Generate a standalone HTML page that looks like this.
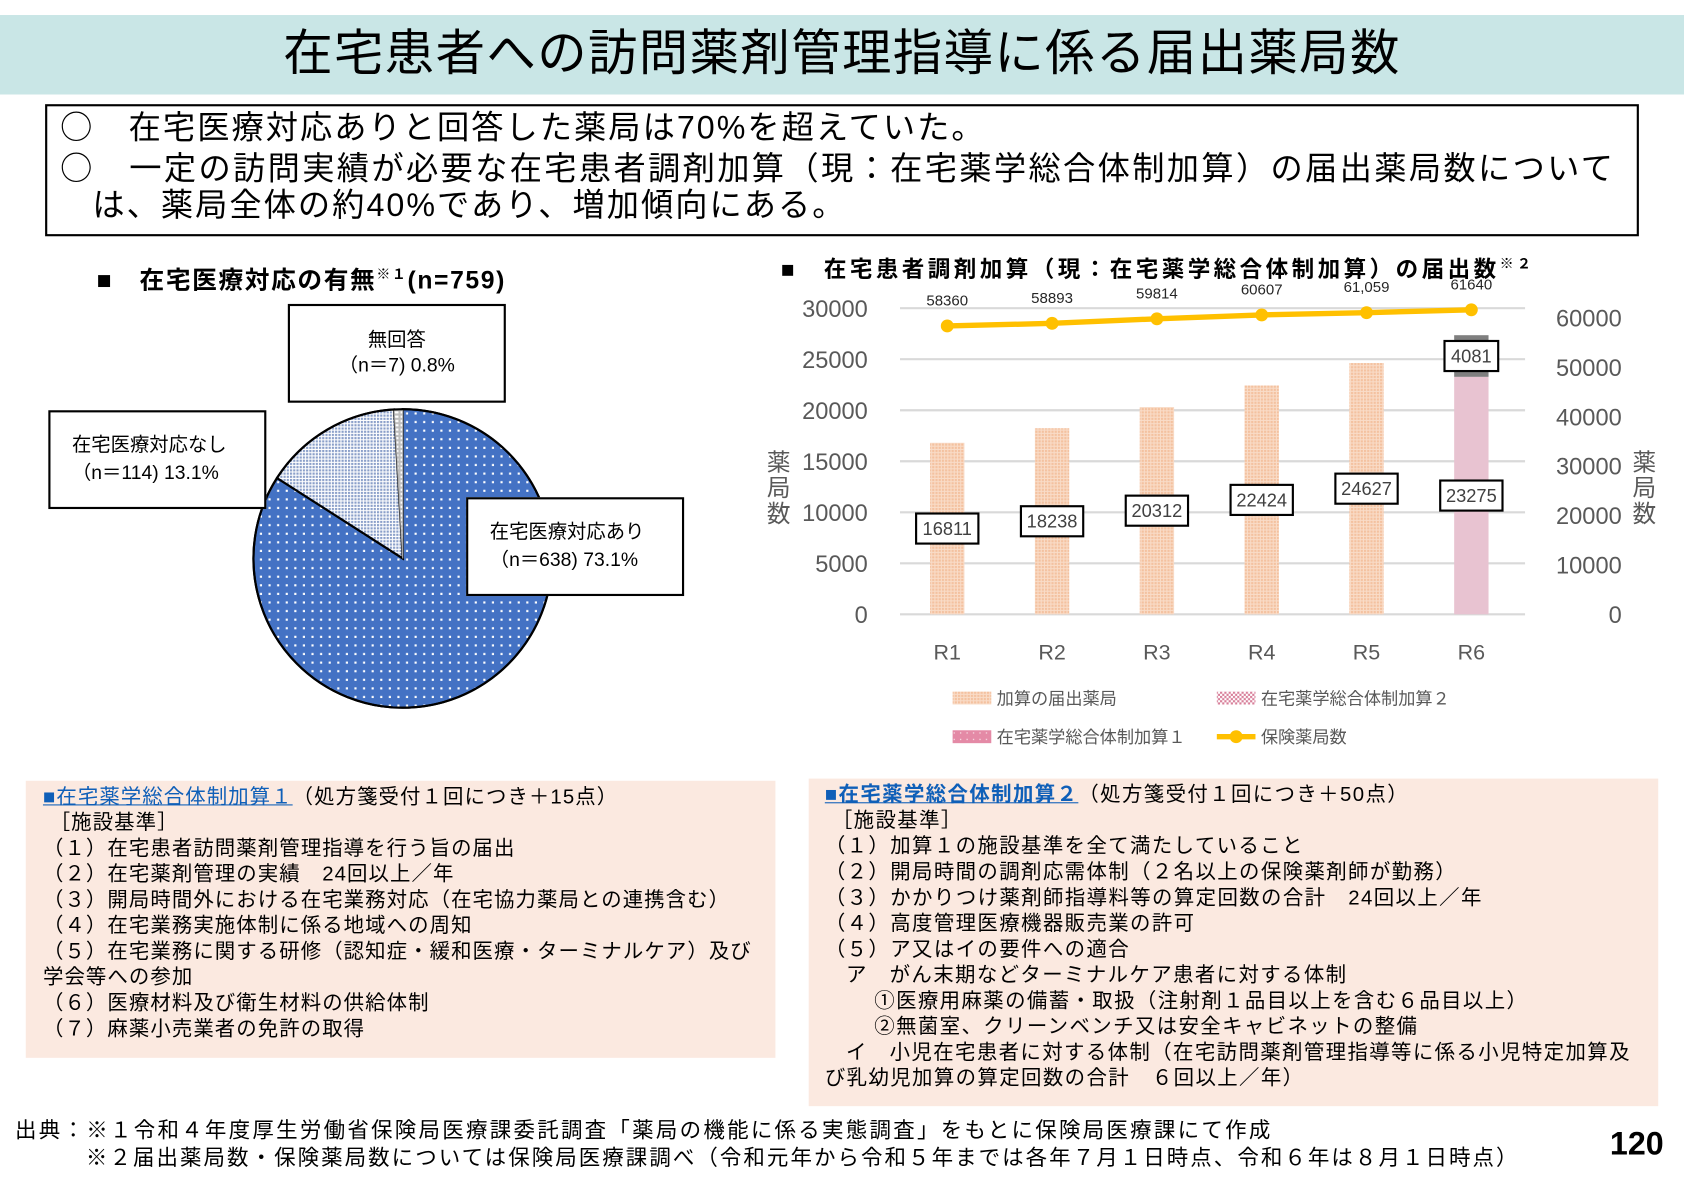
<!DOCTYPE html>
<html><head><meta charset="utf-8">
<style>
html,body{margin:0;padding:0;background:#fff;}
body{width:1684px;height:1191px;overflow:hidden;position:relative;}
#wrap{position:absolute;left:0;top:0;width:1568px;height:1109px;transform:scale(1.07398,1.07394);transform-origin:0 0;font-family:"Liberation Sans","Noto Sans CJK JP",sans-serif;color:#000;}
.abs{position:absolute;white-space:nowrap;}
.t{font-size:19px;line-height:24px;letter-spacing:1px;}
.c{font-family:"Noto Sans CJK JP",sans-serif;}
</style></head><body>
<div id="wrap">
<div class="abs" style="left:0;top:14px;width:1568px;height:74px;background:#c9e6e6;"></div>
<div class="abs" style="left:0;top:14px;width:1568px;height:74px;line-height:70px;text-align:center;font-size:46px;letter-spacing:1.3px;">在宅患者への訪問薬剤管理指導に係る届出薬局数</div>

<div class="abs" style="left:42px;top:97px;width:1480px;height:119px;border:2px solid #000;"></div>
<div class="abs" style="left:56px;top:97px;font-size:30px;line-height:38px;letter-spacing:1.9px;"><span class="c">○</span>　在宅医療対応ありと回答した薬局は70%を超えていた。</div>
<div class="abs" style="left:56px;top:135px;font-size:30px;line-height:38px;letter-spacing:2.2px;"><span class="c">○</span>　一定の訪問実績が必要な在宅患者調剤加算（現：在宅薬学総合体制加算）の届出薬局数について</div>
<div class="abs" style="left:86px;top:173px;font-size:30px;line-height:38px;letter-spacing:1.9px;">は、薬局全体の約40%であり、増加傾向にある。</div>

<div class="abs" style="left:90px;top:242px;font-size:23px;font-weight:bold;line-height:28px;letter-spacing:1.5px;">■　在宅医療対応の有無<sup style="font-size:13px">※１</sup>(n=759)</div>
<svg class="abs" style="left:0;top:230px" width="760" height="480" id="pie">
<defs>
<pattern id="pBlue" width="8" height="8" patternUnits="userSpaceOnUse"><rect width="8" height="8" fill="#4472c4"/><rect x="2" y="2" width="2" height="2" fill="#fff"/></pattern>
<pattern id="pLight" width="3" height="3" patternUnits="userSpaceOnUse"><rect width="3" height="3" fill="#fff"/><rect x="0" y="0" width="2" height="2" fill="#8a9fc9"/></pattern>
<pattern id="pGray" width="6" height="4" patternUnits="userSpaceOnUse"><rect width="6" height="4" fill="#bfbfbf"/><rect x="1" y="1" width="4" height="2" fill="#fff"/></pattern>
</defs>
</svg>
<div class="abs" style="left:268px;top:283px;width:203px;border:2px solid #000;background:#fff;text-align:center;font-size:18px;line-height:24px;padding-top:19px;box-sizing:border-box;height:92px;">無回答<br>（n＝7) 0.8%</div>
<div class="abs" style="left:45px;top:382px;width:203px;height:92px;border:2px solid #000;background:#fff;box-sizing:border-box;font-size:18px;line-height:26px;padding:17px 0 0 20px;">在宅医療対応なし<br>（n＝114) 13.1%</div>
<div class="abs" style="left:434px;top:463px;width:203px;height:92px;border:2px solid #000;background:#fff;box-sizing:border-box;font-size:18px;line-height:26px;padding:17px 0 0 20px;">在宅医療対応あり<br>（n＝638) 73.1%</div>

<div class="abs" style="left:727px;top:232px;font-size:21px;font-weight:bold;line-height:28px;letter-spacing:3.2px;">■　在宅患者調剤加算（現：在宅薬学総合体制加算）の届出数<sup style="font-size:13px">※２</sup></div>
<svg class="abs" style="left:700px;top:260px" width="868" height="460" id="bar">
<defs>
<pattern id="pPeach" width="3" height="3" patternUnits="userSpaceOnUse"><rect width="3" height="3" fill="#f9dcc8"/><rect width="2" height="2" fill="#f4c19f"/></pattern>
<pattern id="pPink2" width="4" height="4" patternUnits="userSpaceOnUse"><rect width="4" height="4" fill="#fff"/><rect width="2" height="2" fill="#d87f9a"/><rect x="2" y="2" width="2" height="2" fill="#d87f9a"/></pattern>
<pattern id="pPink1" width="6" height="6" patternUnits="userSpaceOnUse"><rect width="6" height="6" fill="#e48aa6"/><rect x="2" y="2" width="1" height="1" fill="#fff"/></pattern>
</defs>
</svg>

<div class="abs t" style="left:24px;top:727px;width:698px;height:258px;background:#fbe9e0;"></div>
<div class="abs t" style="left:40px;top:731px;">
<span style="color:#0f5fb8;text-decoration:underline;">■在宅薬学総合体制加算１</span>（処方箋受付１回につき＋15点）<br>
&nbsp;［施設基準］<br>
（１）在宅患者訪問薬剤管理指導を行う旨の届出<br>
（２）在宅薬剤管理の実績　24回以上／年<br>
（３）開局時間外における在宅業務対応（在宅協力薬局との連携含む）<br>
（４）在宅業務実施体制に係る地域への周知<br>
（５）在宅業務に関する研修（認知症・緩和医療・ターミナルケア）及び<br>
学会等への参加<br>
（６）医療材料及び衛生材料の供給体制<br>
（７）麻薬小売業者の免許の取得</div>

<div class="abs t" style="left:753px;top:725px;width:791px;height:305px;background:#fbe9e0;"></div>
<div class="abs t" style="left:768px;top:729px;letter-spacing:1.3px;">
<span style="color:#0f5fb8;text-decoration:underline;font-weight:bold;">■在宅薬学総合体制加算２</span>（処方箋受付１回につき＋50点）<br>
&nbsp;［施設基準］<br>
（１）加算１の施設基準を全て満たしていること<br>
（２）開局時間の調剤応需体制（２名以上の保険薬剤師が勤務）<br>
（３）かかりつけ薬剤師指導料等の算定回数の合計　24回以上／年<br>
（４）高度管理医療機器販売業の許可<br>
（５）ア又はイの要件への適合<br>
&nbsp;&nbsp;&nbsp;ア　がん末期などターミナルケア患者に対する体制<br>
&nbsp;&nbsp;&nbsp;&nbsp;&nbsp;&nbsp;&nbsp;①医療用麻薬の備蓄・取扱（注射剤１品目以上を含む６品目以上）<br>
&nbsp;&nbsp;&nbsp;&nbsp;&nbsp;&nbsp;&nbsp;②無菌室、クリーンベンチ又は安全キャビネットの整備<br>
&nbsp;&nbsp;&nbsp;イ　小児在宅患者に対する体制（在宅訪問薬剤管理指導等に係る小児特定加算及<br>
び乳幼児加算の算定回数の合計　６回以上／年）</div>

<div class="abs" style="left:14px;top:1040px;font-size:20px;line-height:26px;letter-spacing:2.1px;">出典：※１令和４年度厚生労働省保険局医療課委託調査「薬局の機能に係る実態調査」をもとに保険局医療課にて作成</div>
<div class="abs" style="left:80px;top:1066px;font-size:20px;line-height:26px;letter-spacing:1.9px;">※２届出薬局数・保険薬局数については保険局医療課調べ（令和元年から令和５年までは各年７月１日時点、令和６年は８月１日時点）</div>
<div class="abs" style="left:1499px;top:1048px;font-size:30px;font-weight:bold;line-height:36px;">120</div>
</div>

<script>
const pieLabels = ['在宅医療対応あり','在宅医療対応なし','無回答'];
const pieCounts = [638, 114, 7];
const categories = ['R1','R2','R3','R4','R5','R6'];
const kasanValues = [16811, 18238, 20312, 22424, 24627, null];
const kasan1Values = [null, null, null, null, null, 23275];
const kasan2Values = [null, null, null, null, null, 4081];
const pharmacyValues = [58360, 58893, 59814, 60607, 61059, 61640];
const pharmacyLabels = ['58360','58893','59814','60607','61,059','61640'];
const leftTicks = [0,5000,10000,15000,20000,25000,30000];
const rightTicks = [0,10000,20000,30000,40000,50000,60000];

const NS='http://www.w3.org/2000/svg';
function mk(parent,tag,attrs,text){const e=document.createElementNS(NS,tag);for(const k in attrs)e.setAttribute(k,attrs[k]);if(text!==undefined)e.textContent=text;parent.appendChild(e);return e;}

(function(){
  const svg=document.getElementById('pie');
  const cx=375, cy=520-230, r=139;
  const fills=['url(#pBlue)','url(#pLight)','url(#pGray)'];
  const names=['pie-slice-home-care','pie-slice-no-home-care','pie-slice-no-answer'];
  const total=pieCounts.reduce((a,b)=>a+b,0);
  let a0=-Math.PI/2;
  pieCounts.forEach((c,i)=>{
    const a1=a0+c/total*2*Math.PI;
    const x0=cx+r*Math.cos(a0), y0=cy+r*Math.sin(a0), x1=cx+r*Math.cos(a1), y1=cy+r*Math.sin(a1);
    const large=(a1-a0)>Math.PI?1:0;
    const p=mk(svg,'path',{d:`M${cx},${cy} L${x0},${y0} A${r},${r} 0 ${large} 1 ${x1},${y1} Z`,fill:fills[i],stroke:i===2?'#a6a6a6':'#000','stroke-width':i===2?1:2});
    
    
    a0=a1;
  });
  const o=mk(svg,'circle',{cx:cx,cy:cy,r:r,fill:'none',stroke:'#000','stroke-width':2});
  
  
})();

(function(){
  const svg=document.getElementById('bar');
  const OX=700, OY=260;
  const x0=838-OX, x1=1420-OX, y0=572-OY;
  const yL=v=>y0 - v/30000*285;
  const yR=v=>y0 - v/60000*276;
  const xC=i=>(882-OX)+i*97.6;
  const bw=32;
  const grid='#d9d9d9', txt='#595959';
  leftTicks.forEach(t=>{
    const l=mk(svg,'line',{x1:x0,x2:x1,y1:yL(t),y2:yL(t),stroke:grid,'stroke-width':2});
    
    
    const tx=mk(svg,'text',{x:808-OX,y:yL(t)+8,'text-anchor':'end','font-size':22,fill:txt,'font-family':'Liberation Sans, sans-serif'},String(t));
    
    
  });
  rightTicks.forEach(t=>{
    const tx=mk(svg,'text',{x:1510-OX,y:yR(t)+8,'text-anchor':'end','font-size':22,fill:txt,'font-family':'Liberation Sans, sans-serif'},String(t));
    
    
  });
  ['薬','局','数'].forEach((ch,k)=>{
    const a=mk(svg,'text',{x:725-OX,y:438-OY+k*24,'text-anchor':'middle','font-size':22,fill:txt,'font-family':'Noto Sans CJK JP, sans-serif'},ch);
    
    
    const b=mk(svg,'text',{x:1531-OX,y:438-OY+k*24,'text-anchor':'middle','font-size':22,fill:txt,'font-family':'Noto Sans CJK JP, sans-serif'},ch);
    
    
  });
  function label(cx,cy,text,w){
    const g=mk(svg,'g',{});
    
    
    mk(g,'rect',{x:cx-w/2,y:cy-14,width:w,height:28,fill:'#fff',stroke:'#000','stroke-width':2});
    mk(g,'text',{x:cx,y:cy+6,'text-anchor':'middle','font-size':17,fill:'#404040','font-family':'Liberation Sans, sans-serif'},text);
  }
  categories.forEach((c,i)=>{
    const cx=xC(i);
    let base=0;
    if(kasanValues[i]!=null){
      const v=kasanValues[i];
      const r=mk(svg,'rect',{x:cx-bw/2,y:yL(v),width:bw,height:yL(0)-yL(v),fill:'url(#pPeach)'});
      
      
    }
    if(kasan1Values[i]!=null){
      const v=kasan1Values[i];
      const r=mk(svg,'rect',{x:cx-bw/2,y:yL(v),width:bw,height:yL(0)-yL(v),fill:'#e8c3d1'});
      
      
      base=v;
    }
    if(kasan2Values[i]!=null){
      const v=kasan2Values[i];
      const r=mk(svg,'rect',{x:cx-bw/2,y:yL(base+v),width:bw,height:yL(base)-yL(base+v),fill:'#7f7f7f'});
      
      
    }
    const xt=mk(svg,'text',{x:cx,y:614-OY,'text-anchor':'middle','font-size':20,fill:txt,'font-family':'Liberation Sans, sans-serif'},c);
    
    
  });
  categories.forEach((c,i)=>{
    const cx=xC(i);
    if(kasanValues[i]!=null) label(cx,yL(kasanValues[i]/2),String(kasanValues[i]),58);
    if(kasan1Values[i]!=null) label(cx,yL(kasan1Values[i]/2),String(kasan1Values[i]),58);
    if(kasan2Values[i]!=null) label(cx,yL(kasan1Values[i]+kasan2Values[i]/2),String(kasan2Values[i]),50);
  });
  const pts=pharmacyValues.map((v,i)=>xC(i)+','+yR(v)).join(' ');
  const pl=mk(svg,'polyline',{points:pts,fill:'none',stroke:'#ffc000','stroke-width':5});
  
  
  pharmacyValues.forEach((v,i)=>{
    const d=mk(svg,'circle',{cx:xC(i),cy:yR(v),r:6,fill:'#ffc000'});
    
    
    const t=mk(svg,'text',{x:xC(i),y:yR(v)-19,'text-anchor':'middle','font-size':14,fill:'#262626','font-family':'Liberation Sans, sans-serif'},pharmacyLabels[i]);
    
    
  });
  const lg=[
    {x:887,y:650,type:'rect',fill:'url(#pPeach)',text:'加算の届出薬局'},
    {x:1133,y:650,type:'rect',fill:'url(#pPink2)',text:'在宅薬学総合体制加算２'},
    {x:887,y:686,type:'rect',fill:'url(#pPink1)',text:'在宅薬学総合体制加算１'},
    {x:1133,y:686,type:'line',fill:'#ffc000',text:'保険薬局数'}
  ];
  lg.forEach(e=>{
    const g=mk(svg,'g',{});
    
    
    if(e.type==='rect') mk(g,'rect',{x:e.x-OX,y:e.y-OY-6,width:36,height:12,fill:e.fill});
    else { mk(g,'line',{x1:e.x-OX,x2:e.x-OX+36,y1:e.y-OY,y2:e.y-OY,stroke:e.fill,'stroke-width':5}); mk(g,'circle',{cx:e.x-OX+18,cy:e.y-OY,r:6,fill:e.fill}); }
    mk(g,'text',{x:e.x-OX+41,y:e.y-OY+6,'font-size':16,fill:txt,'font-family':'Liberation Sans, Noto Sans CJK JP, sans-serif'},e.text);
  });
})();
</script>
</body></html>
